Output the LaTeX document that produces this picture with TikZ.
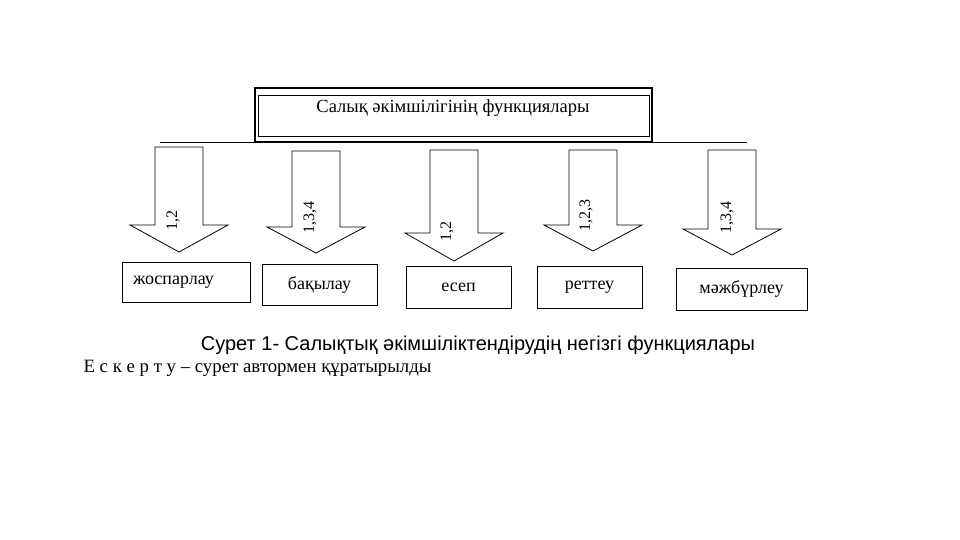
\documentclass[tikz,border=0pt]{standalone}
\usepackage{fontspec}
\setmainfont{Liberation Serif}
\newfontfamily\capfont{Liberation Sans}

\tikzset{
  box/.style={draw, line width=0.8pt, inner sep=2pt, font=\fontsize{18}{20}\selectfont},
  num/.style={rotate=90, inner sep=1pt, font=\fontsize{16}{18}\selectfont},
  arrowshape/.style={draw, line width=0.8pt, fill=white}
}

\begin{document}
\begin{tikzpicture}[x=1pt,y=-1pt]
  \useasboundingbox (0,0) rectangle (960,540);

  % header
  \draw[line width=1.2pt] (255,88) rectangle (652,142);
  \draw[line width=0.8pt] (258,95) rectangle (649,136);
  \node[font=\fontsize{18.5}{20}\selectfont] (title) at (453,108) {Салық әкімшілігінің функциялары};
  \draw[line width=0.8pt] (160,142.5) -- (747,142.5);

  % arrows
  \foreach \cx/\tp/\bs/\tip/\lx/\ly/\num [count=\i] in {179/147/225/252/173/220/{1,2}, 316/151/227/253/310/217/{1,3,4}, 454/150/233/261/447/231/{1,2}, 593/150/225/251/586/215/{1,2,3}, 732/150/229/255/727/217/{1,3,4}}{
    \draw[arrowshape] (\cx-24,\tp) -- (\cx+24,\tp) -- (\cx+24,\bs) -- (\cx+49,\bs) -- (\cx,\tip) -- (\cx-49,\bs) -- (\cx-24,\bs) -- cycle;
    \node[num] (n\i) at (\lx,\ly) {\num};
  }

  % functions
  \node[box, text width=106pt, inner xsep=11pt, align=left, minimum height=40pt] (planning) at (186,282) {жоспарлау};
  \node[box, minimum width=115pt, minimum height=41pt] (control) at (319.5,284.5) {бақылау};
  \node[box, minimum width=105pt, minimum height=42pt] (account) at (458.5,287) {есеп};
  \node[box, minimum width=105pt, minimum height=42pt] (regulate) at (589.5,287) {реттеу};
  \node[box, minimum width=131pt, minimum height=42pt] (enforce) at (741.5,289) {мәжбүрлеу};

  % caption
  \node[font=\capfont\fontsize{20}{22}\selectfont] (caption) at (478,345) {Сурет 1- Салықтық әкімшіліктендірудің негізгі функциялары};
  \node[anchor=west, font=\fontsize{18.8}{20}\selectfont] (note) at (80,368) {Е с к е р т у – сурет автормен құратырылды};
\end{tikzpicture}
\end{document}
